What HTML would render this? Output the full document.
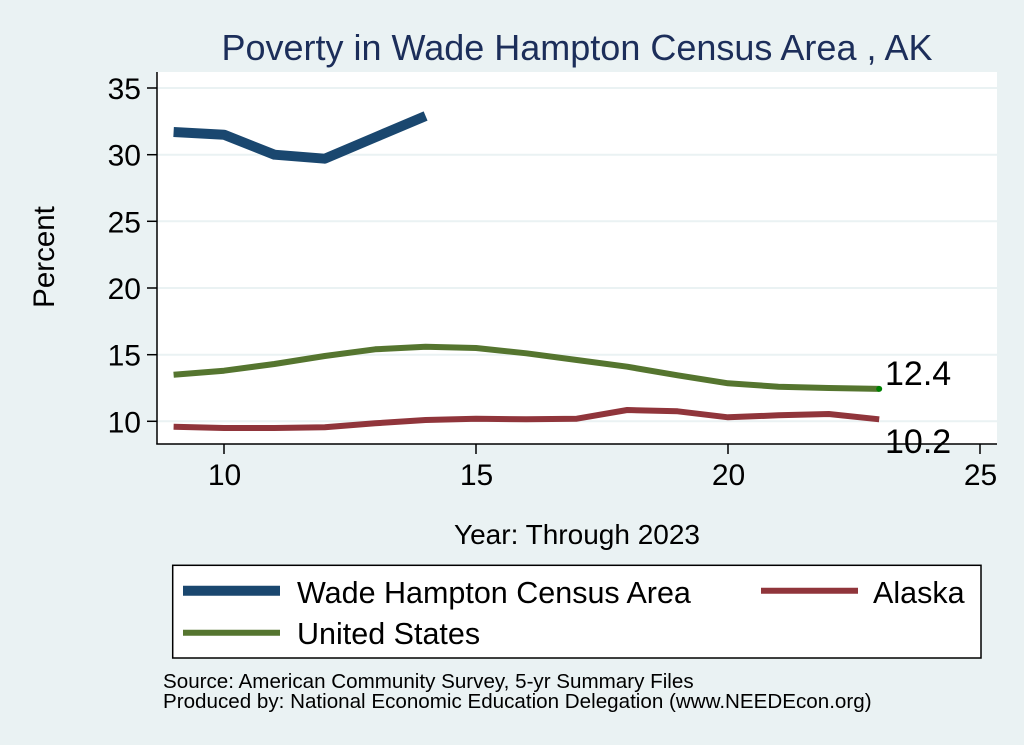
<!DOCTYPE html>
<html>
<head>
<meta charset="utf-8">
<style>
html,body{margin:0;padding:0;background:#eaf2f3;}
svg{display:block;}
text{font-family:"Liberation Sans",Arial,Helvetica,sans-serif;}
</style>
</head>
<body>
<svg width="1024" height="745" viewBox="0 0 1024 745" xmlns="http://www.w3.org/2000/svg">
<rect x="0" y="0" width="1024" height="745" fill="#eaf2f3"/>
<!-- title -->
<text x="577" y="60" font-size="36" fill="#1c2e5a" text-anchor="middle">Poverty in Wade Hampton Census Area , AK</text>
<!-- plot region -->
<rect x="157" y="72" width="840" height="372" fill="#ffffff"/>
<!-- gridlines -->
<g stroke="#eaf2f3" stroke-width="2">
<line x1="157" y1="88" x2="997" y2="88"/>
<line x1="157" y1="154.7" x2="997" y2="154.7"/>
<line x1="157" y1="221.3" x2="997" y2="221.3"/>
<line x1="157" y1="288" x2="997" y2="288"/>
<line x1="157" y1="354.7" x2="997" y2="354.7"/>
<line x1="157" y1="421.3" x2="997" y2="421.3"/>
</g>
<!-- axes -->
<g stroke="#000" stroke-width="1.5" fill="none">
<line x1="157" y1="72" x2="157" y2="444.5"/>
<line x1="156.3" y1="444" x2="997" y2="444"/>
<line x1="147" y1="88" x2="157" y2="88"/>
<line x1="147" y1="154.7" x2="157" y2="154.7"/>
<line x1="147" y1="221.3" x2="157" y2="221.3"/>
<line x1="147" y1="288" x2="157" y2="288"/>
<line x1="147" y1="354.7" x2="157" y2="354.7"/>
<line x1="147" y1="421.3" x2="157" y2="421.3"/>
<line x1="224" y1="444" x2="224" y2="454"/>
<line x1="476" y1="444" x2="476" y2="454"/>
<line x1="728" y1="444" x2="728" y2="454"/>
<line x1="980" y1="444" x2="980" y2="454"/>
</g>
<!-- y tick labels -->
<g font-size="30" fill="#000" text-anchor="end">
<text x="141" y="99">35</text>
<text x="141" y="165.7">30</text>
<text x="141" y="232.3">25</text>
<text x="141" y="299">20</text>
<text x="141" y="365.7">15</text>
<text x="141" y="432.3">10</text>
</g>
<!-- x tick labels -->
<g font-size="30" fill="#000" text-anchor="middle">
<text x="224.5" y="485">10</text>
<text x="476.5" y="485">15</text>
<text x="728.5" y="485">20</text>
<text x="980.5" y="485">25</text>
</g>
<!-- axis titles -->
<text x="577" y="544" font-size="28" fill="#000" text-anchor="middle">Year: Through 2023</text>
<text x="0" y="0" font-size="29.5" fill="#000" text-anchor="middle" transform="translate(54,257) rotate(-90)">Percent</text>
<!-- series -->
<g fill="none" stroke-linejoin="round" stroke-linecap="butt">
<polyline stroke="#1a476f" stroke-width="10" points="173.6,132 224,134.7 274.4,154.7 324.8,158.7 375.2,137.3 425.6,116"/>
<polyline stroke="#55752f" stroke-width="6" points="173.6,374.7 224,370.7 274.4,364 324.8,356 375.2,349.3 425.6,346.7 476,348 526.4,353.3 576.8,360 627.2,366.7 677.6,375.3 728,383.3 778.4,386.7 828.8,388 879.2,388.9"/>
<polyline stroke="#90353b" stroke-width="6" points="173.6,426.7 224,428 274.4,428 324.8,427.3 375.2,423.3 425.6,420 476,418.7 526.4,419.3 576.8,418.7 627.2,410 677.6,411.3 728,417.3 778.4,415.3 828.8,414 879.2,419.3"/>
</g>
<circle cx="879.2" cy="388.9" r="3" fill="#008000"/>
<!-- value labels -->
<text x="885" y="385" font-size="34" fill="#000">12.4</text>
<text x="885" y="453" font-size="34" fill="#000">10.2</text>
<!-- legend -->
<rect x="172.7" y="565.3" width="808.3" height="92.7" fill="#ffffff" stroke="#000" stroke-width="1.5"/>
<line x1="183" y1="590.7" x2="280" y2="590.7" stroke="#1a476f" stroke-width="10"/>
<line x1="183" y1="632.7" x2="280" y2="632.7" stroke="#55752f" stroke-width="6"/>
<line x1="761" y1="590.7" x2="858" y2="590.7" stroke="#90353b" stroke-width="6"/>
<g font-size="30.5" fill="#000">
<text x="297" y="603">Wade Hampton Census Area</text>
<text x="297" y="644">United States</text>
<text x="873" y="603">Alaska</text>
</g>
<!-- footer -->
<g font-size="20.6" fill="#000">
<text x="163" y="688">Source: American Community Survey, 5-yr Summary Files</text>
<text x="163" y="708">Produced by: National Economic Education Delegation (www.NEEDEcon.org)</text>
</g>
</svg>
</body>
</html>
